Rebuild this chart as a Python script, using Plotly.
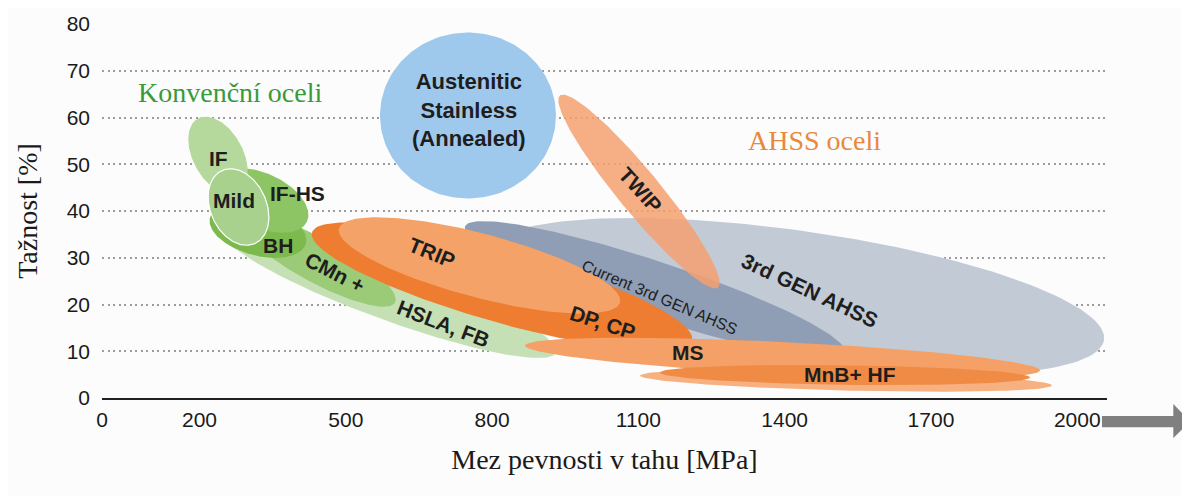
import numpy as np
import plotly.graph_objects as go

# ---------------- axes ----------------
x_tick_vals = [0, 200, 500, 800, 1100, 1400, 1700, 2000]
y_tick_vals = [0, 10, 20, 30, 40, 50, 60, 70, 80]
x_range = [0, 2061]
y_range = [0, 80]

# ---------------- regions (ellipses) ----------------
# each region: major-axis end points (MPa, %) and half width (%)
region_names = ["3rd GEN AHSS", "Current 3rd GEN AHSS", "HSLA, FB", "CMn +", "BH",
                "IF-HS", "IF", "Mild", "DP, CP", "TRIP", "MS", "MnB+ HF outer",
                "MnB+ HF", "TWIP", "Austenitic Stainless"]
tip1_mpa = [787.5, 744.4, 252.2, 283.0, 221.5, 235.8, 196.9, 246.1, 430.6, 486.0,
            867.4, 1103.3, 1144.3, 939.2, 570.1]
tip1_pct = [31.0, 36.68, 35.40, 38.40, 38.61, 46.74, 59.79, 48.66, 35.40, 36.26,
            11.23, 4.81, 5.45, 64.71, 60.43]
tip2_mpa = [2054.8, 1523.7, 931.0, 600.9, 418.3, 420.4, 278.9, 313.8, 1209.9, 1062.3,
            1923.6, 1948.2, 1903.1, 1263.2, 931.0]
tip2_pct = [12.43, 9.73, 9.73, 20.43, 33.05, 37.75, 43.96, 33.05, 12.30, 20.43,
            5.88, 2.67, 4.39, 23.64, 60.43]
half_width_pct = [14.12, 5.99, 5.99, 4.71, 5.35, 5.78, 5.35, 5.99, 7.70, 6.84,
                  3.42, 2.14, 2.1, 4.49, 17.75]
region_colors = ["#c2cad6", "#8f9eb5", "#c5e0b4", "#9ccb77", "#7cba4e",
                 "#8dc565", "#b5d89d", "#a9d18e", "#ee7d31", "#f4a267",
                 "#f4a066", "#f7b080", "#f08b45", "#f4a070", "#9ec8ec"]
region_opacity = [1, 1, 1, 1, 1, 1, 1, 1, 1, 1, 1, 1, 1, 0.85, 1]
region_outline = [None, None, None, None, None, None, None, "white", None, None,
                  None, None, None, None, None]

# ---------------- labels ----------------
label_text = ["IF", "Mild", "IF-HS", "BH", "CMn +", "HSLA, FB", "TRIP", "DP, CP", "MS",
              "MnB+ HF", "Current 3rd GEN AHSS", "3rd GEN AHSS", "TWIP",
              "Austenitic<br>Stainless<br>(Annealed)"]
label_x = [237.9, 270.7, 399.9, 360.9, 477.8, 699.3, 676.7, 1027.4, 1201.7, 1533.9,
           1144.3, 1451.9, 1105.3, 752.6]
label_y = [51.2, 42.2, 43.7, 32.6, 26.8, 16.0, 31.1, 16.1, 9.7, 5.0, 21.5, 23.0, 44.4, 61.5]
label_angle = [0, 0, 0, 0, 27, 21, 22, 18, 0, 0, 23, 25, 48, 0]
label_size = [21, 21, 21, 21, 21, 21, 21, 21, 21, 21, 16, 21, 21, 22]
label_bold = [True] * 10 + [False, True, True, True]

group_text = ["Konvenční oceli", "AHSS oceli"]
group_x = [262.5, 1462.1]
group_y = [65.3, 55.1]
group_color = ["#389a38", "#e8883c"]

# ---------------- layout geometry ----------------
# the page body adds an 8 px offset, so the figure is 8 px smaller
W, H = 1182, 488
M_L, M_R, M_T, M_B = 94, 83, 16, 98
plot_w = W - M_L - M_R
plot_h = H - M_T - M_B
px_per_mpa = plot_w / (x_range[1] - x_range[0])
px_per_pct = plot_h / (y_range[1] - y_range[0])
K = px_per_pct / px_per_mpa  # MPa-equivalent of 1 % in screen space


def ellipse(x1, y1, x2, y2, hw, n=180):
    p1 = np.array([x1, y1 * K])
    p2 = np.array([x2, y2 * K])
    c = (p1 + p2) / 2
    d = p2 - p1
    a = np.linalg.norm(d) / 2
    u = d / np.linalg.norm(d)
    v = np.array([-u[1], u[0]])
    b = hw * K
    t = np.linspace(0, 2 * np.pi, n)
    pts = c[None, :] + np.outer(a * np.cos(t), u) + np.outer(b * np.sin(t), v)
    return pts[:, 0], pts[:, 1] / K


fig = go.Figure()
for i, name in enumerate(region_names):
    xs, ys = ellipse(tip1_mpa[i], tip1_pct[i], tip2_mpa[i], tip2_pct[i], half_width_pct[i])
    outline = region_outline[i]
    fig.add_trace(go.Scatter(
        x=xs, y=ys, mode="lines", fill="toself", name=name,
        fillcolor=region_colors[i], opacity=region_opacity[i],
        line=dict(color=outline if outline else region_colors[i], width=1.2 if outline else 0),
        hoverinfo="skip", showlegend=False))

for i, t in enumerate(label_text):
    fig.add_annotation(
        x=label_x[i], y=label_y[i], xref="x", yref="y",
        text=f"<b>{t}</b>" if label_bold[i] else t, showarrow=False,
        textangle=label_angle[i],
        font=dict(family="Liberation Sans, Arial, sans-serif", size=label_size[i], color="#1e1e1e"))

for i, t in enumerate(group_text):
    fig.add_annotation(
        x=group_x[i], y=group_y[i], xref="x", yref="y", text=t, showarrow=False,
        font=dict(family="Liberation Serif, Times New Roman, serif", size=28, color=group_color[i]))

# arrow on the right of the x axis
fig.add_shape(type="path", xref="paper", yref="paper",
              path="M 0.995 -0.048 L 1.066 -0.048 L 1.066 -0.016 L 1.0826 -0.063 "
                   "L 1.066 -0.107 L 1.066 -0.078 L 0.995 -0.078 Z",
              fillcolor="#808080", line=dict(width=0))

serif = "Liberation Serif, Times New Roman, serif"
sans = "Liberation Sans, Arial, sans-serif"
fig.update_layout(
    width=W, height=H,
    margin=dict(l=M_L, r=M_R, t=M_T, b=M_B, autoexpand=False),
    paper_bgcolor="#fcfcfc", plot_bgcolor="#fcfcfc",
    xaxis=dict(range=x_range, tickvals=x_tick_vals, ticktext=[str(v) for v in x_tick_vals],
               showgrid=False, zeroline=False, showline=True, linecolor="#222222", linewidth=1.5,
               ticks="", tickfont=dict(family=sans, size=21, color="#1a1a1a"),
               ticklabelstandoff=2, automargin=False,
               title=dict(text="Mez pevnosti v tahu [MPa]", font=dict(family=serif, size=28, color="#1a1a1a"),
                          standoff=19)),
    yaxis=dict(range=y_range, tickvals=y_tick_vals, showgrid=True, gridcolor="#9c9c9c",
               griddash="2px,3.5px", gridwidth=2, zeroline=False, showline=False, ticks="",
               tickfont=dict(family=sans, size=21, color="#1a1a1a"), ticklabelstandoff=11,
               automargin=False,
               title=dict(text="Tažnost [%]", font=dict(family=serif, size=28, color="#1a1a1a"),
                          standoff=20)),
)

fig.write_html("out.html")
